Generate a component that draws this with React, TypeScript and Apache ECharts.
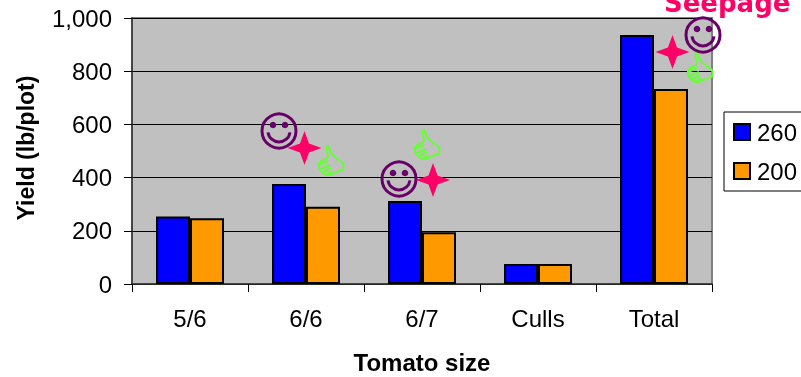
import React, { useEffect, useRef } from "react";
import * as echarts from "echarts";

const categories = ["5/6", "6/6", "6/7", "Culls", "Total"];
const series260 = [254, 376, 312, 75, 936];
const series200 = [247, 290, 195, 75, 733];
const yTicks = { min: 0, max: 1000, interval: 200 };
const smileyCentres = [[279, 131], [399, 179], [703, 35]];
const starCentres = [[304.5, 148], [433, 180], [672.5, 52]];
const thumbOrigins = [[318, 145], [414, 129], [687, 52]];

const FONT = "Liberation Sans";
const thumbPath =
  "M9 1 C11 0 11 3 12 6 C14 10 19 14 24 17 C26 19 26 25 24 25 C18 26 14 31 8 30 C3 28 0 23 1 19 C2 15 8 15 10 12 C10 8 7 3 9 1 Z M1 20 L10 16 M3 24 L12 20 M5 27 L13 23 M8 30 L14 26";
echarts.graphic.registerShape("thumbShape", echarts.graphic.extendPath(thumbPath, {}) as any);

function smiley([cx, cy]: number[]) {
  const purple = "#660066";
  return [
    { type: "circle", shape: { cx, cy, r: 17 }, style: { fill: "none", stroke: purple, lineWidth: 3 }, z: 10 },
    { type: "circle", shape: { cx: cx - 6, cy: cy - 6, r: 3.3 }, style: { fill: purple }, z: 10 },
    { type: "circle", shape: { cx: cx + 6, cy: cy - 6, r: 3.3 }, style: { fill: purple }, z: 10 },
    {
      type: "arc",
      shape: { cx, cy, r: 11, startAngle: 0.12, endAngle: Math.PI - 0.12 },
      style: { fill: "none", stroke: purple, lineWidth: 3 },
      z: 10,
    },
  ];
}

function star([cx, cy]: number[]) {
  const o = 17, i = 4.5;
  return {
    type: "polygon",
    shape: {
      points: [
        [cx, cy - o], [cx + i, cy - i], [cx + o, cy], [cx + i, cy + i],
        [cx, cy + o], [cx - i, cy + i], [cx - o, cy], [cx - i, cy - i],
      ],
    },
    style: { fill: "#FF0066" },
    z: 9,
  };
}

function thumb([x, y]: number[]) {
  return {
    type: "thumbShape",
    x,
    y,
    style: { fill: "none", stroke: "#66FF33", lineWidth: 2 },
    z: 9,
  };
}

const barStyle = (color: string) => ({ color, borderColor: "#000", borderWidth: 2 });

export default function App() {
  const ref = useRef<HTMLDivElement>(null);
  useEffect(() => {
    const chart = echarts.init(ref.current!, null, { renderer: "svg" });
    chart.setOption({
      animation: false,
      grid: { left: 132, right: 89, top: 18, bottom: 93, outerBoundsMode: "none", show: true, backgroundColor: "#C0C0C0", borderColor: "#808080", borderWidth: 2 },
      legend: {
        data: ["260", "200"],
        orient: "vertical",
        left: 724,
        top: 112,
        padding: [8, 14, 8, 9],
        itemGap: 15,
        itemWidth: 16,
        itemHeight: 16,
        icon: "rect",
        borderColor: "#000",
        borderWidth: 1,
        backgroundColor: "#fff",
        textStyle: { fontFamily: FONT, fontSize: 24, color: "#000", padding: [0, 0, 0, 2] },
      },
      xAxis: {
        type: "category",
        data: categories,
        name: "Tomato size",
        nameLocation: "middle",
        nameGap: 66,
        nameTextStyle: { fontFamily: FONT, fontSize: 24, fontWeight: "bold", color: "#000" },
        axisLine: { lineStyle: { color: "#333", width: 1.5 } },
        axisTick: { show: true, length: 8, alignWithLabel: false, lineStyle: { color: "#000" } },
        axisLabel: { fontFamily: FONT, fontSize: 24, color: "#000", margin: 22 },
        splitLine: { show: false },
      },
      yAxis: {
        type: "value",
        ...yTicks,
        name: "Yield (lb/plot)",
        nameLocation: "middle",
        nameGap: 95,
        nameTextStyle: { fontFamily: FONT, fontSize: 23, fontWeight: "bold", color: "#000", padding: [0, 0, 0, 6] },
        axisLine: { show: true, lineStyle: { color: "#333", width: 1.5 } },
        axisTick: { show: true, length: 8, lineStyle: { color: "#000" } },
        axisLabel: {
          fontFamily: FONT,
          fontSize: 24,
          color: "#000",
          margin: 20,
          formatter: (v: number) => v.toLocaleString("en-US"),
        },
        splitLine: { show: true, lineStyle: { color: "#000", width: 1 } },
      },
      series: [
        { name: "260", type: "bar", data: series260, barWidth: 34, barGap: "0%", itemStyle: barStyle("#0000FF") },
        { name: "200", type: "bar", data: series200, barWidth: 34, barGap: "0%", itemStyle: barStyle("#FF9900") },
      ],
      graphic: [
        {
          type: "text",
          x: 664,
          y: -10,
          style: { text: "Seepage", fontFamily: "DejaVu Sans", fontWeight: "bold", fontSize: 26, fill: "#FF0066" },
          z: 10,
        },
        ...smileyCentres.flatMap(smiley),
        ...starCentres.map(star),
        ...thumbOrigins.map(thumb),
      ],
    });
    return () => chart.dispose();
  }, []);
  return <div ref={ref} style={{ position: "fixed", left: 0, top: 0, width: 801, height: 377 }} />;
}
